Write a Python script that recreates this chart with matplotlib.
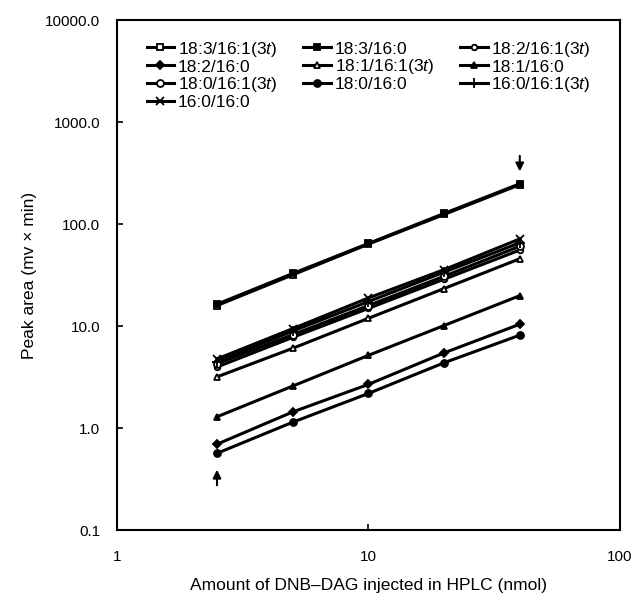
import matplotlib
matplotlib.use('Agg')
import matplotlib.pyplot as plt
from matplotlib.ticker import FixedLocator, FixedFormatter, NullLocator

plt.rcParams['font.family'] = ['Liberation Sans', 'DejaVu Sans']
plt.rcParams['mathtext.fontset'] = 'custom'
plt.rcParams['mathtext.it'] = 'Liberation Sans:italic'

# amount injected (nmol)
amount = [2.5, 5, 10, 20, 40]

# peak areas
s_183_161 = [16.0, 32.0, 64.0, 125.0, 245.0]
s_183_160 = [16.5, 33.0, 65.0, 128.0, 250.0]
s_182_161 = [4.0, 7.8, 15.0, 29.0, 56.0]
s_182_160 = [0.70, 1.45, 2.7, 5.5, 10.5]
s_181_161 = [3.2, 6.1, 12.0, 23.5, 46.0]
s_181_160 = [1.3, 2.6, 5.2, 10.2, 20.0]
s_180_161 = [4.3, 8.3, 16.0, 31.0, 61.0]
s_180_160 = [0.57, 1.15, 2.2, 4.4, 8.2]
s_160_161 = [4.5, 9.0, 17.5, 34.0, 66.0]
s_160_160 = [4.8, 9.5, 19.0, 36.0, 72.0]

labels = ['18:3/16:1(3$\\it{t}$)', '18:3/16:0', '18:2/16:1(3$\\it{t}$)',
          '18:2/16:0', '18:1/16:1(3$\\it{t}$)', '18:1/16:0',
          '18:0/16:1(3$\\it{t}$)', '18:0/16:0', '16:0/16:1(3$\\it{t}$)',
          '16:0/16:0']
series = [s_183_161, s_183_160, s_182_161, s_182_160, s_181_161,
          s_181_160, s_180_161, s_180_160, s_160_161, s_160_160]
markers = [('s', 'white', 5), ('s', 'black', 5), ('o', 'white', 4),
           ('D', 'black', 4), ('^', 'white', 5), ('^', 'black', 5),
           ('o', 'white', 5), ('o', 'black', 5), ('+', 'black', 7),
           ('x', 'black', 6)]

fig = plt.figure(figsize=(6.39, 5.98), dpi=100)
ax = fig.add_axes([0.183, 0.113, 0.787, 0.853])

handles = []
for vals, lab, (m, fc, ms) in zip(series, labels, markers):
    h, = ax.plot(amount, vals, color='black', lw=2.2, marker=m, ms=ms,
                 mfc=fc, mec='black', mew=1.3, label=lab)
    handles.append(h)

ax.set_xscale('log')
ax.set_yscale('log')
ax.set_xlim(1, 100)
ax.set_ylim(0.1, 10000)

ax.xaxis.set_major_locator(FixedLocator([1, 10, 100]))
ax.xaxis.set_major_formatter(FixedFormatter(['1', '10', '100']))
ax.xaxis.set_minor_locator(NullLocator())
yt = [0.1, 1, 10, 100, 1000, 10000]
ax.yaxis.set_major_locator(FixedLocator(yt))
ax.yaxis.set_major_formatter(FixedFormatter(['0.1', '1.0', '10.0', '100.0', '1000.0', '10000.0']))
ax.yaxis.set_minor_locator(NullLocator())
ax.tick_params(direction='in', length=4, width=1.2, labelsize=11, pad=12)
ax.tick_params(axis='x', pad=14)
for sp in ax.spines.values():
    sp.set_linewidth(1.5)

ax.set_xlabel('Amount of DNB\u2013DAG injected in HPLC (nmol)', fontsize=12.5, labelpad=10)
ax.set_ylabel('Peak area (mv \u00d7 min)', fontsize=12.5, labelpad=6)

# arrows marking the range
ax.annotate('', xy=(40, 310), xytext=(40, 500),
            arrowprops=dict(arrowstyle='-|>', color='black', lw=1.5, mutation_scale=12))
ax.annotate('', xy=(2.5, 0.42), xytext=(2.5, 0.26),
            arrowprops=dict(arrowstyle='-|>', color='black', lw=1.5, mutation_scale=12))

# legend reads row by row, matplotlib fills column by column
order = [0, 3, 6, 9, 1, 4, 7, 2, 5, 8]
ax.legend([handles[i] for i in order], [labels[i] for i in order],
          loc='upper left', bbox_to_anchor=(0.045, 0.976), ncol=3, frameon=False,
          fontsize=12.5, handlelength=1.6, handletextpad=0.2, columnspacing=1.5,
          labelspacing=0.05, borderaxespad=0)

fig.savefig('out.png', dpi=100)
